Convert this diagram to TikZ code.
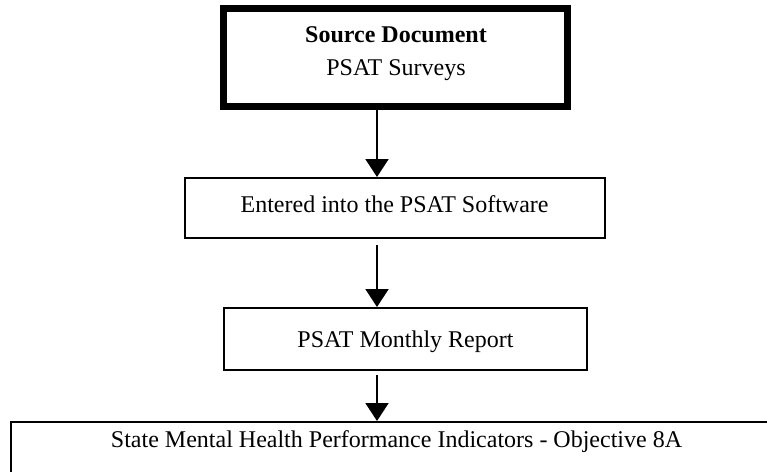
\documentclass[tikz,border=0pt]{standalone}
\usepackage{fontspec}
\setmainfont{Liberation Serif}
\usetikzlibrary{arrows.meta}
\begin{document}
\begin{tikzpicture}[x=0.5pt,y=-0.5pt,
  box/.style={draw, line width=1pt, inner sep=0pt, font=\fontsize{12}{14}\selectfont},
  thickbox/.style={draw, line width=3.5pt, inner sep=0pt},
  txt/.style={inner sep=0pt, anchor=base, font=\fontsize{12}{14}\selectfont},
  flow/.style={line width=1pt, -{Triangle[width=11.5pt,length=9pt]}}]
\useasboundingbox (0,0) rectangle (767,472);
\clip (0,0) rectangle (767,472);
\coordinate (ax) at (377,0);
\node[thickbox, minimum width=172pt, minimum height=49pt] (src) at (395.5,57.5) {};
\node[txt, font=\bfseries\fontsize{12}{14}\selectfont] (srctitle) at (396,42) {Source Document};
\node[txt] (srcname) at (396,75) {PSAT Surveys};
\node[box, minimum width=210pt, minimum height=30pt, text height=8pt, text depth=3.3pt] (entered) at (394.6,208) {Entered into the PSAT Software};
\node[box, minimum width=181.5pt, minimum height=31pt, text height=9pt, text depth=0.4pt] (monthly) at (405.5,339) {PSAT Monthly Report};
\node[box, anchor=north west, minimum width=386pt, inner xsep=0pt, inner ysep=4.5pt, text height=8pt, text depth=60pt] (indicators) at (9.5,421) {State Mental Health Performance Indicators - Objective 8A};
\draw[flow] (src.south -| ax) -- (entered.north -| ax);
\draw[flow, shorten <=3pt] (entered.south -| ax) -- (monthly.north -| ax);
\draw[flow, shorten <=2pt] (monthly.south -| ax) -- (indicators.north -| ax);
\end{tikzpicture}
\end{document}
